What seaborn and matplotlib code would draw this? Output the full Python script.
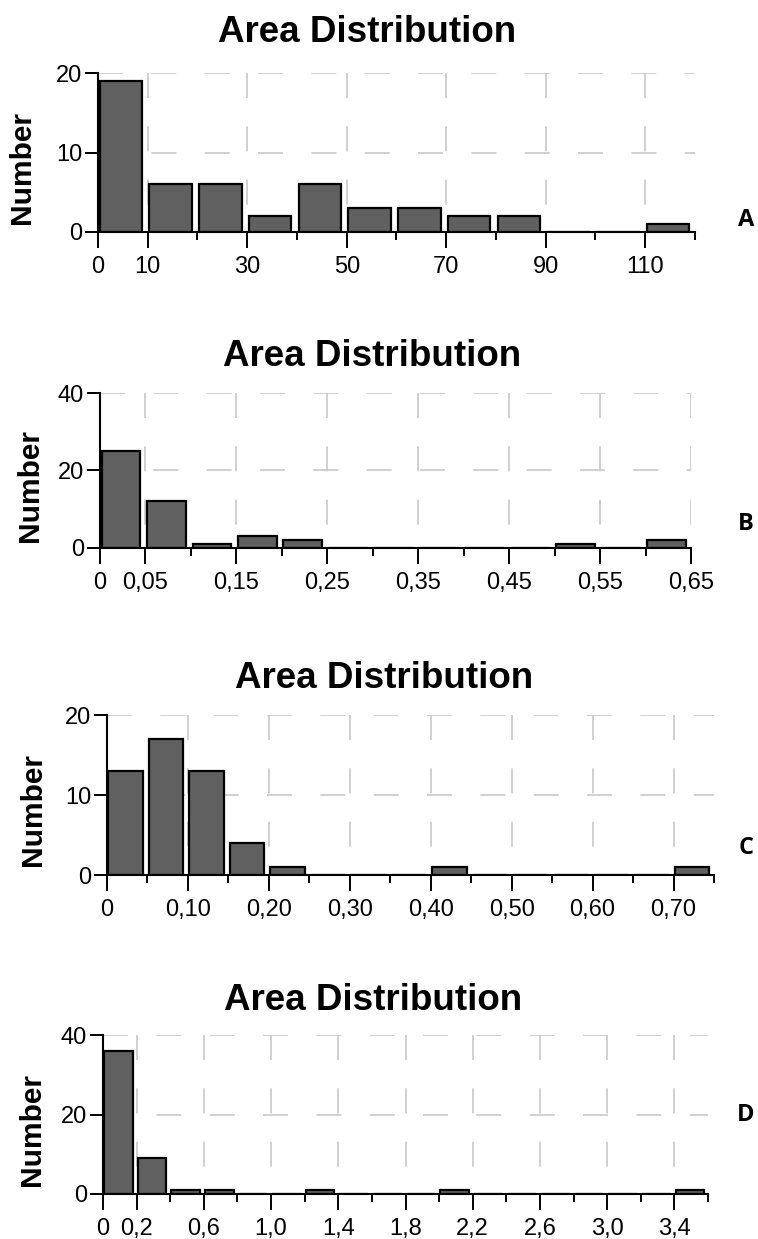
import matplotlib

matplotlib.use("Agg")
import matplotlib.pyplot as plt
import numpy as np
import pandas as pd
import seaborn as sns
from matplotlib.ticker import FixedLocator

sns.set_theme(style="white")
plt.rcParams["font.family"] = ["Liberation Sans", "DejaVu Sans"]
plt.rcParams["text.color"] = "black"
plt.rcParams["xtick.color"] = "black"
plt.rcParams["ytick.color"] = "black"

# panel A: bins of width 10
a_width = 10
a_counts = [19, 6, 6, 2, 6, 3, 3, 2, 2, 0, 0, 1]
a_yticks = [0, 10, 20]
a_xticks = [0, 10, 30, 50, 70, 90, 110]
a_xlabels = ["0", "10", "30", "50", "70", "90", "110"]

# panel B: bins of width 0.05
b_width = 0.05
b_counts = [25, 12, 1, 3, 2, 0, 0, 0, 0, 0, 1, 0, 2]
b_yticks = [0, 20, 40]
b_xticks = [0, 0.05, 0.15, 0.25, 0.35, 0.45, 0.55, 0.65]
b_xlabels = ["0", "0,05", "0,15", "0,25", "0,35", "0,45", "0,55", "0,65"]

# panel C: bins of width 0.05
c_width = 0.05
c_counts = [13, 17, 13, 4, 1, 0, 0, 0, 1, 0, 0, 0, 0, 0, 1]
c_yticks = [0, 10, 20]
c_xticks = [0, 0.10, 0.20, 0.30, 0.40, 0.50, 0.60, 0.70]
c_xlabels = ["0", "0,10", "0,20", "0,30", "0,40", "0,50", "0,60", "0,70"]

# panel D: bins of width 0.2
d_width = 0.2
d_counts = [36, 9, 1, 1, 0, 0, 1, 0, 0, 0, 1, 0, 0, 0, 0, 0, 0, 1]
d_yticks = [0, 20, 40]
d_xticks = [0, 0.2, 0.6, 1.0, 1.4, 1.8, 2.2, 2.6, 3.0, 3.4]
d_xlabels = ["0", "0,2", "0,6", "1,0", "1,4", "1,8", "2,2", "2,6", "3,0", "3,4"]

panel_letters = ["A", "B", "C", "D"]

FIG_W, FIG_H = 758, 1239
GRID_COLOR = "#c8c8c8"
BAR_COLOR = "#606060"
DASH = (15, 17)


def draw_panel(ax, width, counts, yticks, xticks, xlabels):
    """Draw one binned histogram with the dashed grid of the original."""
    edges = np.arange(len(counts) + 1) * width
    frame = pd.DataFrame({"area": edges[:-1] + width / 2, "number": counts})
    # bars sit slightly left inside each bin, as in the source figure
    shift = 0.04 * width
    sns.histplot(
        data=frame,
        x="area",
        weights="number",
        binwidth=width,
        binrange=(-shift, float(edges[-1]) - shift),
        shrink=0.85,
        color=BAR_COLOR,
        edgecolor="black",
        linewidth=1.6,
        alpha=1,
        zorder=3,
        ax=ax,
    )
    ax.set_xlim(0, edges[-1])
    ax.set_ylim(yticks[0], yticks[-1])
    ax.set_yticks(yticks)
    ax.xaxis.set_major_locator(FixedLocator(xticks))
    ax.xaxis.set_minor_locator(FixedLocator(edges))
    ax.set_xticklabels(xlabels)
    ax.set_xlabel("")
    ax.set_ylabel("")

    # dashed grid: horizontal at y ticks, vertical at labelled x ticks,
    # vertical dashes start from the top edge
    ax.yaxis.grid(True, which="major", color=GRID_COLOR, linewidth=1.2,
                  linestyle=(0, DASH), zorder=0)
    ax.xaxis.grid(False)
    ax.vlines([t for t in xticks if t > 0], yticks[-1], yticks[0],
              colors=GRID_COLOR, linewidth=1.2, linestyles=[(0, DASH)],
              zorder=1)

    for side in ("top", "right"):
        ax.spines[side].set_visible(False)
    for side in ("left", "bottom"):
        ax.spines[side].set_color("black")
        ax.spines[side].set_linewidth(1.5)
        ax.spines[side].set_zorder(4)

    ax.tick_params(axis="x", which="major", direction="out", length=11.5,
                   width=1.4, labelsize=17, pad=6, bottom=True)
    ax.tick_params(axis="x", which="minor", direction="out", length=6,
                   width=1.4, bottom=True)
    ax.tick_params(axis="y", direction="out", length=9.5, width=1.4,
                   labelsize=17, pad=2, left=True)


fig = plt.figure(figsize=(FIG_W / 100, FIG_H / 100), dpi=100)

# axes boxes in pixels: left, right, top, bottom
boxes = [
    (98, 695, 73, 232),
    (100, 691, 393, 548),
    (107, 714, 715, 875),
    (103, 708, 1035, 1194),
]
title_pos = [(367, 33), (372, 356), (384, 679), (373, 1001)]
label_x = [22, 30, 33, 32]
letter_y = [220, 524, 848, 1115]

panels = [
    (a_width, a_counts, a_yticks, a_xticks, a_xlabels),
    (b_width, b_counts, b_yticks, b_xticks, b_xlabels),
    (c_width, c_counts, c_yticks, c_xticks, c_xlabels),
    (d_width, d_counts, d_yticks, d_xticks, d_xlabels),
]

for idx, panel in enumerate(panels):
    left, right, top, bottom = boxes[idx]
    ax = fig.add_axes([
        left / FIG_W,
        1 - bottom / FIG_H,
        (right - left) / FIG_W,
        (bottom - top) / FIG_H,
    ])
    draw_panel(ax, *panel)

    tx, ty = title_pos[idx]
    fig.text(tx / FIG_W, 1 - ty / FIG_H, "Area Distribution", ha="center",
             va="center", fontsize=26.5, fontweight="bold")
    fig.text(label_x[idx] / FIG_W, 1 - ((top + bottom) / 2 + 15) / FIG_H,
             "Number", rotation=90, ha="center", va="center", fontsize=21.5,
             fontweight="bold")
    fig.text(746 / FIG_W, 1 - letter_y[idx] / FIG_H, panel_letters[idx],
             ha="center", va="center", fontsize=17, fontweight="bold",
             family=["Open Sans", "DejaVu Sans"])

fig.savefig("out.png", dpi=100)
